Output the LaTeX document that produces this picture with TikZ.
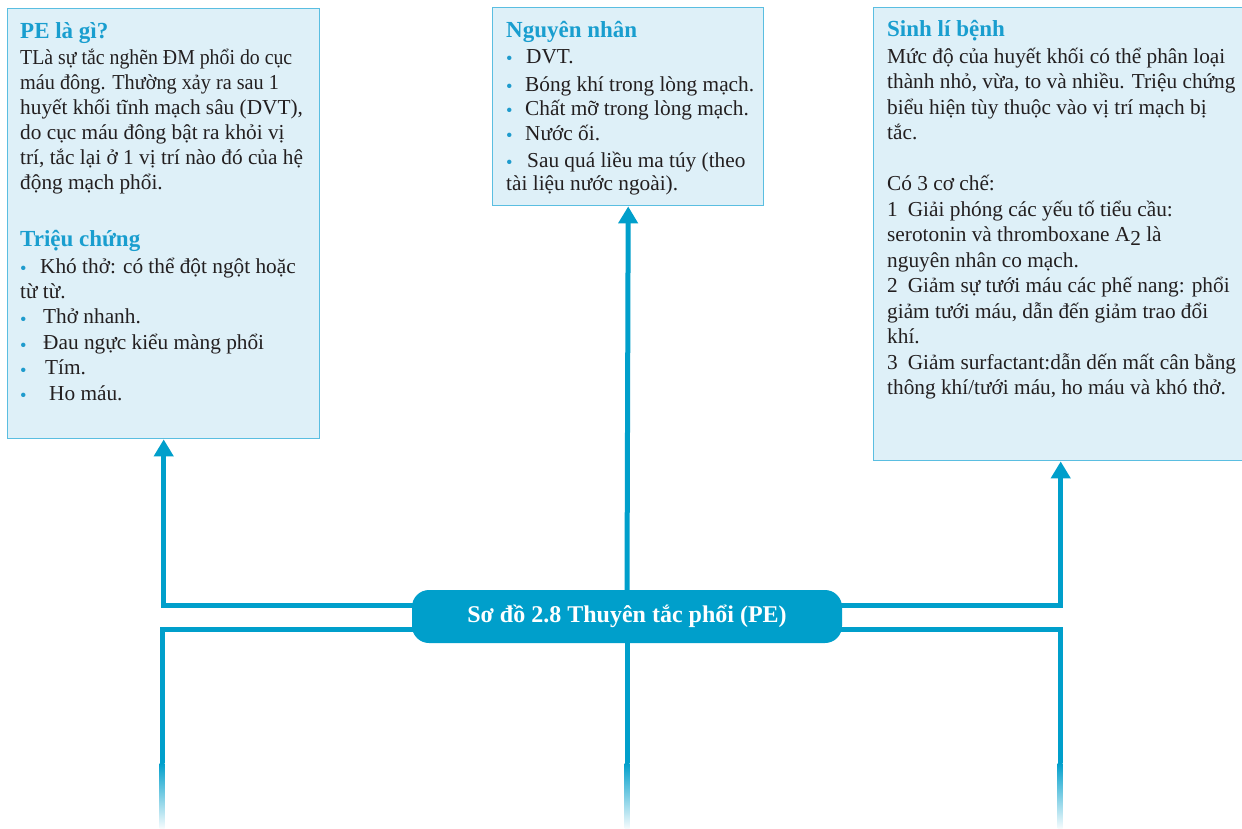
\documentclass[tikz,border=0pt]{standalone}
\usepackage{fontspec}
\setmainfont{Liberation Serif}
\usetikzlibrary{arrows.meta}
\definecolor{lineblue}{RGB}{0,159,203}
\definecolor{boxfill}{RGB}{222,240,248}
\definecolor{boxline}{RGB}{90,190,225}
\definecolor{titleblue}{RGB}{25,158,207}
\definecolor{bodytext}{RGB}{35,31,32}
\definecolor{bulletblue}{RGB}{30,155,205}
\newcommand\bdot{\textcolor{bulletblue}{\raisebox{-1.8pt}{\scalebox{0.87}{•}}}}
\newcommand\bitem[2]{\makebox[#1pt][l]{\bdot}#2}
\begin{document}
\begin{tikzpicture}[x=1pt,y=-1pt,
  box/.style={draw=boxline, line width=1.4pt, fill=boxfill, inner sep=0pt, anchor=north west},
  ttl/.style={anchor=base west, inner sep=0pt, text=titleblue, font=\fontsize{23}{28}\selectfont\bfseries},
  body/.style={anchor=base west, inner sep=0pt, text=bodytext, font=\fontsize{21.3}{25}\selectfont},
  conn/.style={draw=lineblue, line width=5pt},
  arr/.style={conn, -{Triangle[width=19pt,length=17pt]}},
  hub/.style={fill=lineblue, rounded corners=17pt, minimum width=430pt, minimum height=53pt, inner sep=0pt, text=white, font=\fontsize{24}{28}\selectfont\bfseries},
  fade/.style={top color=lineblue, bottom color=lineblue!4}
  ]
\clip (0,0) rectangle (1242,828);
\fill[white] (0,0) rectangle (1242,828);

% boxes
\node[box, minimum width=312pt, minimum height=430pt] (bL) at (7,8) {};
\node[box, minimum width=271pt, minimum height=198pt] (bM) at (492,7) {};
\node[box, minimum width=374pt, minimum height=453pt] (bR) at (873,7) {};

% hub position and free line ends
\coordinate (hubc) at (627,616.5);
\coordinate (eL) at (162,763);
\coordinate (eM) at (627,763);
\coordinate (eR) at (1060,763);

% connectors (drawn first, hub covers their starts)
\node[hub, text opacity=0, fill opacity=0] (hubghost) at (hubc) {};
\draw[arr] ([xshift=20pt,yshift=11.5pt]hubghost.west) -| (bL.south);
\draw[arr] (hubghost.north) -- (bM.south);
\draw[arr] ([xshift=-20pt,yshift=11.5pt]hubghost.east) -| (bR.south);
\draw[conn] ([xshift=20pt,yshift=-12.5pt]hubghost.west) -| (eL);
\draw[conn] (hubghost.south) -- (eM);
\draw[conn] ([xshift=-20pt,yshift=-12.5pt]hubghost.east) -| (eR);
\shade[fade] (159.5,763) rectangle (164.5,828);
\shade[fade] (624.5,763) rectangle (629.5,828);
\shade[fade] (1057.5,763) rectangle (1062.5,828);

\node[hub] (hub) at (hubc) {Sơ đồ 2.8 Thuyên tắc phổi (PE)};

% left box
\node[ttl] (tL1) at (20,38) {PE là gì?};
\node[body] (xL1) at (20,64) {\parbox[t]{400pt}{\raggedright
\scalebox{0.93}[1]{TLà sự tắc nghẽn ĐM phổi do cục}\\
\scalebox{0.95}[1]{máu đông. Thường xảy ra sau 1}\\
huyết khối tĩnh mạch sâu (DVT),\\
do cục máu đông bật ra khỏi vị\\
trí, tắc lại ở 1 vị trí nào đó của hệ\\
động mạch phổi.}};
\node[ttl] (tL2) at (20,246) {Triệu chứng};
\node[body] (xL2) at (20,273) {\parbox[t]{400pt}{\fontsize{21.3}{25.4}\selectfont\raggedright
\bitem{20}{Khó thở: có thể đột ngột hoặc}\\
từ từ.\\
\bitem{23}{Thở nhanh.}\\
\bitem{23}{Đau ngực kiểu màng phổi}\\
\bitem{25}{Tím.}\\
\bitem{29}{Ho máu.}}};

% middle box
\node[ttl] (tM) at (506,37) {Nguyên nhân};
\node[body] (xM) at (506,63) {\parbox[t]{400pt}{\fontsize{21.3}{23}\selectfont\raggedright
\bitem{20}{DVT.}\\[5pt]
\bitem{19}{Bóng khí trong lòng mạch.}\\[1pt]
\bitem{19}{Chất mỡ trong lòng mạch.}\\[2pt]
\bitem{19}{Nước ối.}\\[4pt]
\bitem{21}{Sau quá liều ma túy (theo}\\
tài liệu nước ngoài).}};

% right box
\node[ttl] (tR) at (887,36) {Sinh lí bệnh};
\node[body] (xR) at (887,63) {\parbox[t]{400pt}{\fontsize{21.3}{25.5}\selectfont\raggedright
Mức độ của huyết khối có thể phân loại\\
thành nhỏ, vừa, to và nhiều. Triệu chứng\\
biểu hiện tùy thuộc vào vị trí mạch bị\\
tắc.\\[25.5pt]
Có 3 cơ chế:\\
1\hspace{10pt}Giải phóng các yếu tố tiểu cầu:\\
serotonin và thromboxane A\raisebox{-4pt}{2} là\\
nguyên nhân co mạch.\\
2\hspace{10pt}Giảm sự tưới máu các phế nang: phổi\\
giảm tưới máu, dẫn đến giảm trao đổi\\
khí.\\
3\hspace{10pt}Giảm surfactant:dẫn dến mất cân bằng\\
thông khí/tưới máu, ho máu và khó thở.}};
\end{tikzpicture}
\end{document}
